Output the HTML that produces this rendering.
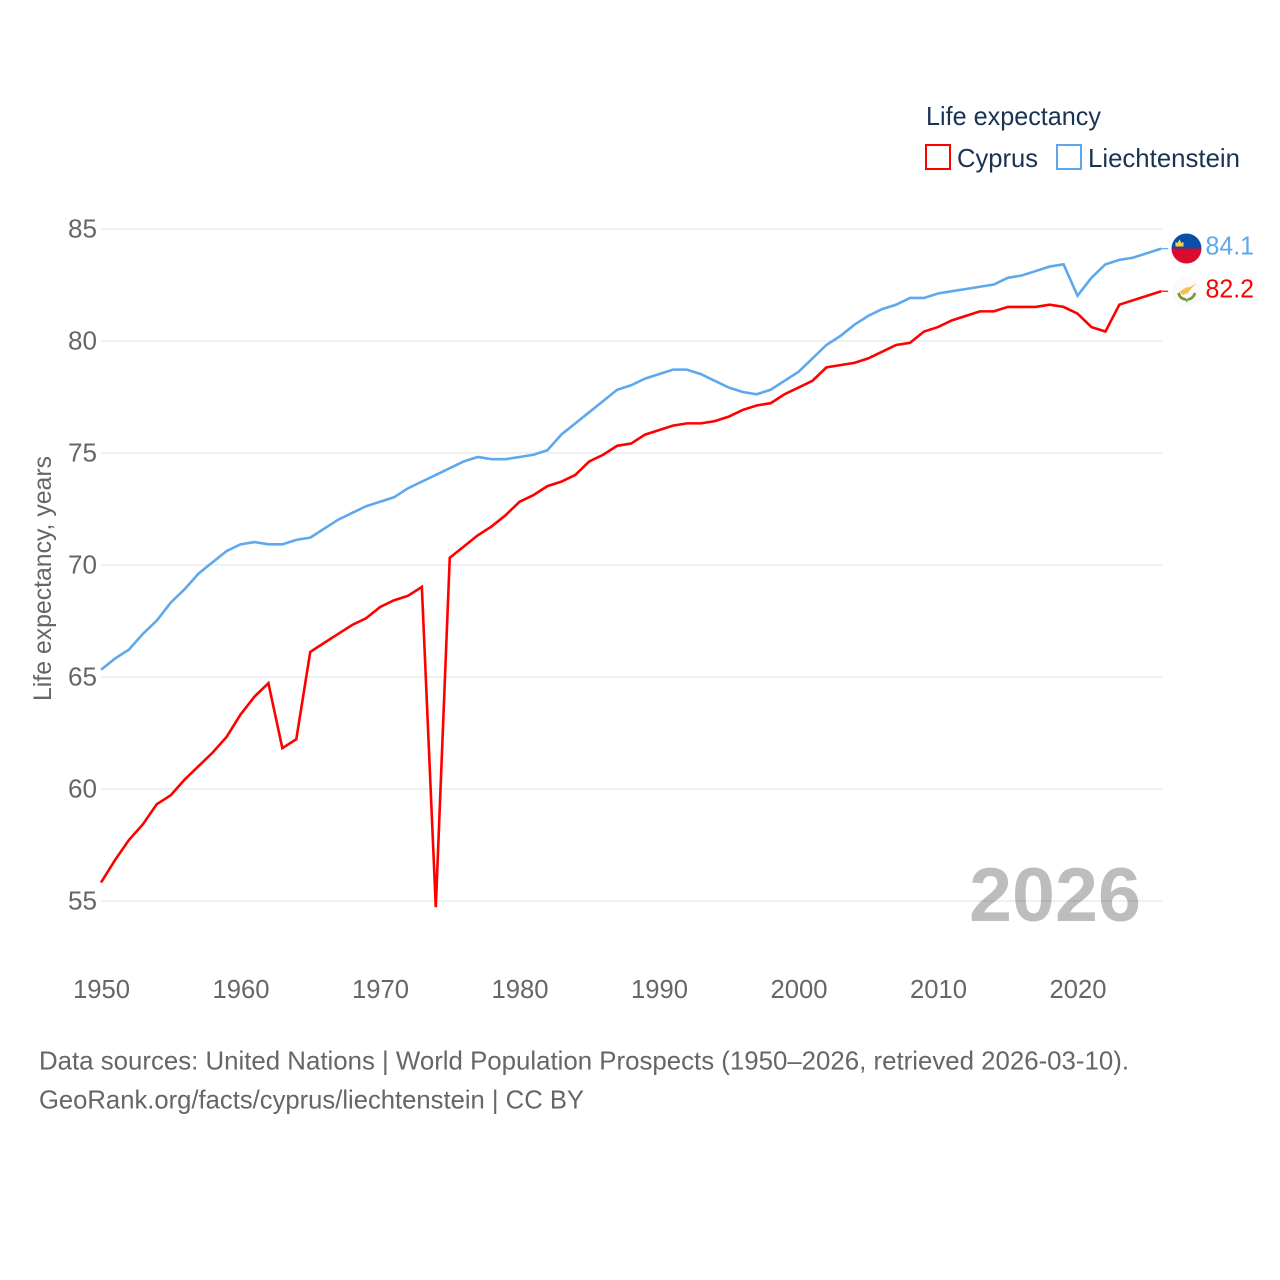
<!DOCTYPE html>
<html lang="en">
<head>
<meta charset="utf-8">
<title>Life expectancy: Cyprus and Liechtenstein</title>
<style>
html,body{margin:0;padding:0;background:#fff;width:1280px;height:1280px;overflow:hidden}
svg{display:block}
text{font-family:"Liberation Sans",sans-serif}
</style>
</head>
<body>
<svg id="chart" width="1280" height="1280" viewBox="0 0 1280 1280" xmlns="http://www.w3.org/2000/svg">
  <g id="grid"></g>
  <g id="yticks"></g>
  <g id="xticks"></g>
  <text x="969" y="921" font-size="76" font-weight="bold" fill="#000" fill-opacity="0.26" textLength="172" lengthAdjust="spacingAndGlyphs">2026</text>
  <g id="series"></g>
  <text transform="translate(51,701) rotate(-90)" font-size="25" fill="#666" textLength="245" lengthAdjust="spacingAndGlyphs">Life expectancy, years</text>

  <g>
    <text x="926" y="125" font-size="26" fill="#1a3353" textLength="175" lengthAdjust="spacingAndGlyphs">Life expectancy</text>
    <g>
      <rect x="926" y="145" width="24" height="24" fill="#fff" stroke="#ff0000" stroke-width="2"/>
      <text x="957" y="167" font-size="26" fill="#1a3353" textLength="81" lengthAdjust="spacingAndGlyphs">Cyprus</text>
    </g>
    <g>
      <rect x="1057" y="145" width="24" height="24" fill="#fff" stroke="#5ea8ee" stroke-width="2"/>
      <text x="1088" y="167" font-size="26" fill="#1a3353" textLength="152" lengthAdjust="spacingAndGlyphs">Liechtenstein</text>
    </g>
  </g>

  <g>
    <clipPath id="liClip"><circle cx="1186.5" cy="248.5" r="15"/></clipPath>
    <g clip-path="url(#liClip)">
      <rect x="1171" y="233" width="31" height="15.5" fill="#0a4ea8"/>
      <rect x="1171" y="248.5" width="31" height="16" fill="#dc0a2d"/>
    </g>
    <path d="M1175.5 246.5h8v-4.5l-2 1-2-3.5-2 3.5-2-1z" fill="#f6d24a"/>
  </g>
  <g>
    <circle cx="1186.5" cy="291.5" r="15" fill="#fafafa"/>
    <path d="M1179 292 L1186 287.5 L1190 287 L1196 283.5 L1191 289 L1188 293 L1183 295 Z" fill="#f2c14e"/>
    <path d="M1178.5 293 Q1180 299 1186 299.5" fill="none" stroke="#6f9a3a" stroke-width="2.6"/>
    <path d="M1195 293 Q1193 299 1187.5 299.5" fill="none" stroke="#6f9a3a" stroke-width="2.6"/>
    <path d="M1186.7 299v3" stroke="#6f9a3a" stroke-width="1.4"/>
  </g>
  <text id="value-li" x="1205.5" y="254.5" font-size="26" fill="#5ea8ee" textLength="48.5" lengthAdjust="spacingAndGlyphs"></text>
  <text id="value-cy" x="1205.5" y="297.5" font-size="26" fill="#ff0000" textLength="48.5" lengthAdjust="spacingAndGlyphs"></text>

  <g>
    <text x="39" y="1069.5" font-size="26" fill="#666" textLength="1090" lengthAdjust="spacingAndGlyphs">Data sources: United Nations | World Population Prospects (1950–2026, retrieved 2026-03-10).</text>
    <text x="39" y="1108.5" font-size="26" fill="#666" textLength="545" lengthAdjust="spacingAndGlyphs">GeoRank.org/facts/cyprus/liechtenstein | CC BY</text>
  </g>
</svg>
<script>
var startYear = 1950;
var yTickLabels = [55, 60, 65, 70, 75, 80, 85];
var xTickLabels = [1950, 1960, 1970, 1980, 1990, 2000, 2010, 2020];
var cyprusValues = [55.8,56.8,57.7,58.4,59.3,59.7,60.4,61.0,61.6,62.3,63.3,64.1,64.7,61.8,62.2,66.1,66.5,66.9,67.3,67.6,68.1,68.4,68.6,69.0,54.7,70.3,70.8,71.3,71.7,72.2,72.8,73.1,73.5,73.7,74.0,74.6,74.9,75.3,75.4,75.8,76.0,76.2,76.3,76.3,76.4,76.6,76.9,77.1,77.2,77.6,77.9,78.2,78.8,78.9,79.0,79.2,79.5,79.8,79.9,80.4,80.6,80.9,81.1,81.3,81.3,81.5,81.5,81.5,81.6,81.5,81.2,80.6,80.4,81.6,81.8,82.0,82.2];
var liechtensteinValues = [65.3,65.8,66.2,66.9,67.5,68.3,68.9,69.6,70.1,70.6,70.9,71.0,70.9,70.9,71.1,71.2,71.6,72.0,72.3,72.6,72.8,73.0,73.4,73.7,74.0,74.3,74.6,74.8,74.7,74.7,74.8,74.9,75.1,75.8,76.3,76.8,77.3,77.8,78.0,78.3,78.5,78.7,78.7,78.5,78.2,77.9,77.7,77.6,77.8,78.2,78.6,79.2,79.8,80.2,80.7,81.1,81.4,81.6,81.9,81.9,82.1,82.2,82.3,82.4,82.5,82.8,82.9,83.1,83.3,83.4,82.0,82.8,83.4,83.6,83.7,83.9,84.1];

var NS = 'http://www.w3.org/2000/svg';
function xScale(year) { return 101 + (year - 1950) * 13.95; }
function yScale(value) { return 229 + (85 - value) * 22.4; }
function lineY(value) { return yScale(value) - 0.5; }
function makeEl(tag, parent, attrs) {
  var el = document.createElementNS(NS, tag);
  for (var k in attrs) el.setAttribute(k, attrs[k]);
  parent.appendChild(el);
  return el;
}

var gridGroup = document.getElementById('grid');
var yGroup = document.getElementById('yticks');
var xGroup = document.getElementById('xticks');
var seriesGroup = document.getElementById('series');

yTickLabels.forEach(function (v) {
  var line = makeEl('line', gridGroup, {x1: 101, x2: 1162, y1: yScale(v), y2: yScale(v), stroke: '#ececec', 'stroke-width': 1.4});
  
  
  var t = makeEl('text', yGroup, {x: 68, y: yScale(v) + 8.7, 'font-size': 26, fill: '#666', textLength: 29, lengthAdjust: 'spacingAndGlyphs'});
  
  
  t.textContent = v;
});

xTickLabels.forEach(function (y) {
  var t = makeEl('text', xGroup, {x: xScale(y) - 28, y: 998, 'font-size': 26, fill: '#666', textLength: 57, lengthAdjust: 'spacingAndGlyphs'});
  
  
  t.textContent = y;
});

function drawSeries(values, color, name) {
  var pts = values.map(function (v, i) { return xScale(startYear + i).toFixed(2) + ',' + lineY(v).toFixed(2); });
  var line = makeEl('polyline', seriesGroup, {points: pts.join(' '), fill: 'none', stroke: color, 'stroke-width': 2.6, 'stroke-linejoin': 'miter', 'stroke-miterlimit': 10});
  
  
  var last = values.length - 1;
  var tail = makeEl('line', seriesGroup, {x1: xScale(startYear + last), x2: xScale(startYear + last) + 7, y1: lineY(values[last]), y2: lineY(values[last]), stroke: color, 'stroke-width': 1.2});
  
  
}
drawSeries(liechtensteinValues, '#5ea8ee', 'line-liechtenstein');
drawSeries(cyprusValues, '#ff0000', 'line-cyprus');

document.getElementById('value-li').textContent = liechtensteinValues[liechtensteinValues.length - 1].toFixed(1);
document.getElementById('value-cy').textContent = cyprusValues[cyprusValues.length - 1].toFixed(1);
</script>
</body>
</html>
